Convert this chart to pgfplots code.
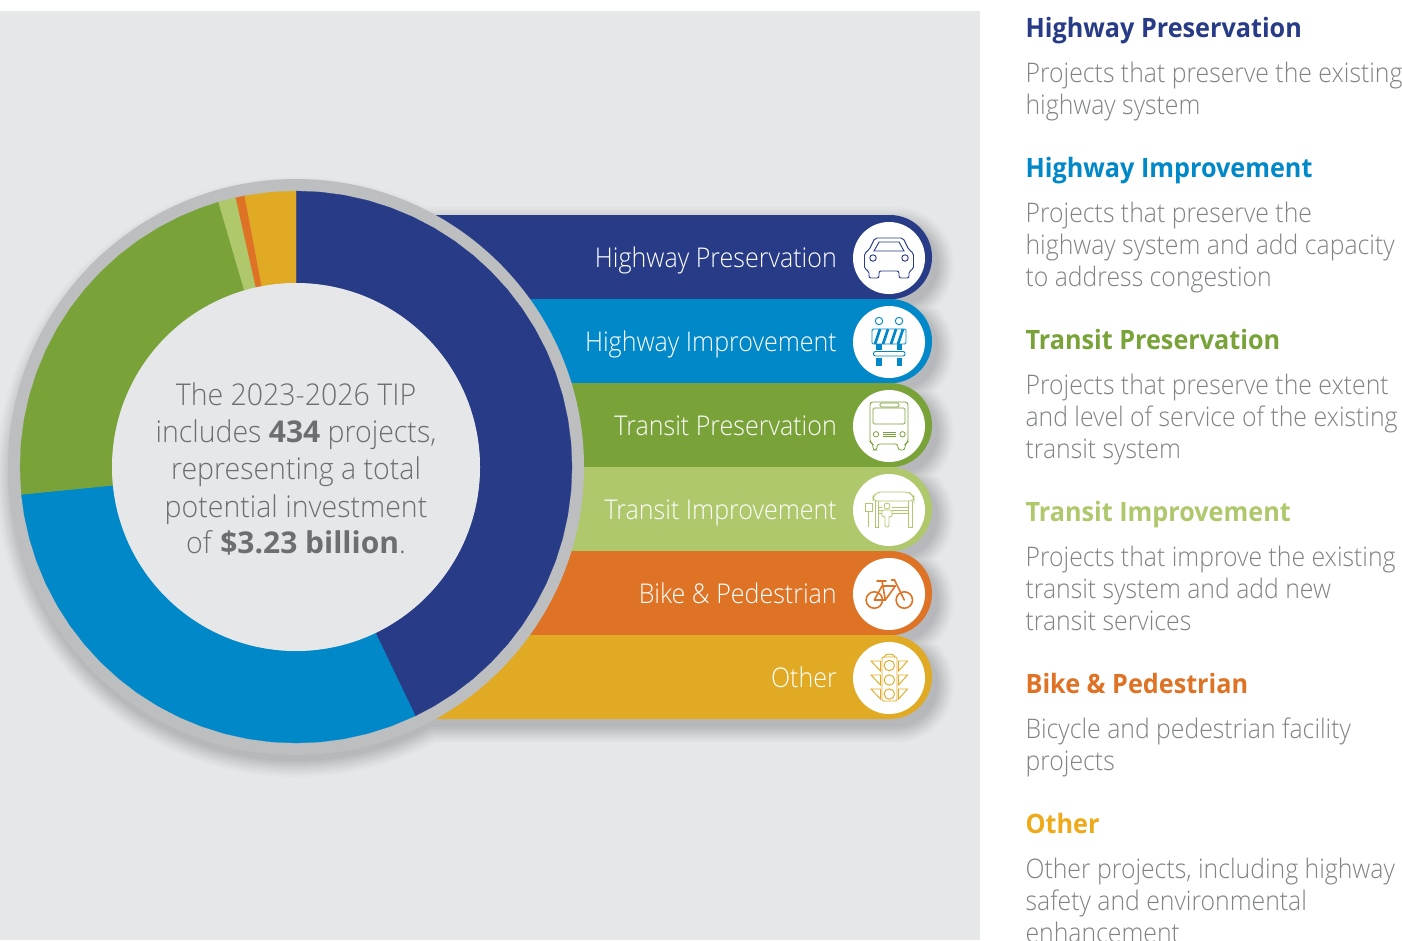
\documentclass[border=0pt]{standalone}
\usepackage{fontspec}
\setmainfont{Open Sans Light}[FakeStretch=0.92, BoldFont=Open Sans Bold, BoldFeatures={FakeStretch=0.945}]
\newfontfamily\midf{Open Sans Light}[FakeStretch=0.95, BoldFont=Open Sans Bold, BoldFeatures={FakeStretch=1}]
\usepackage{pgfplots}
\pgfplotsset{compat=1.18}

\definecolor{bg}{HTML}{E6E7E8}
\definecolor{ringc}{HTML}{BCBEC0}
\definecolor{shadowc}{HTML}{B4B6B9}
\definecolor{hpres}{HTML}{273B87}
\definecolor{himp}{HTML}{0088C9}
\definecolor{tpres}{HTML}{79A339}
\definecolor{timp}{HTML}{AFC86C}
\definecolor{bike}{HTML}{DE7326}
\definecolor{other}{HTML}{E0AA24}
\definecolor{otitle}{HTML}{EFAA1A}
\definecolor{midtxt}{HTML}{6D6E71}
\definecolor{sidetxt}{HTML}{808285}

% one shadow layer: w = spread in px, c = share of the shadow colour
\newcommand{\shlayer}[2]{%
  \fill[shadowc!#2!bg] (axis cs:296,477) circle [radius={(284+#1)*0.75pt}];
  \draw[shadowc!#2!bg, line cap=round, line width={(84+2*#1)*0.75pt}] (axis cs:420,265) -- (axis cs:896,265);
  \draw[shadowc!#2!bg, line cap=round, line width={(84+2*#1)*0.75pt}] (axis cs:420,349) -- (axis cs:896,349);
  \draw[shadowc!#2!bg, line cap=round, line width={(84+2*#1)*0.75pt}] (axis cs:420,433) -- (axis cs:896,433);
  \draw[shadowc!#2!bg, line cap=round, line width={(84+2*#1)*0.75pt}] (axis cs:420,517) -- (axis cs:896,517);
  \draw[shadowc!#2!bg, line cap=round, line width={(84+2*#1)*0.75pt}] (axis cs:420,601) -- (axis cs:896,601);
  \draw[shadowc!#2!bg, line cap=round, line width={(84+2*#1)*0.75pt}] (axis cs:420,685) -- (axis cs:896,685);
}
\newcommand{\bandlabel}[2]{\node[anchor=base east, text=white, font=\fontsize{20.4}{20.4}\selectfont, inner sep=0pt] at (axis cs:837,#1) {#2};}
\newcommand{\midline}[2]{\node[anchor=base, text=midtxt, font=\fontsize{22.5}{22.5}\selectfont\midf, inner sep=0pt] at (axis cs:296,#1) {#2};}
\newcommand{\sidetitle}[3]{\node[anchor=base west, text=#2, font=\fontsize{20}{20}\selectfont\bfseries, inner sep=0pt] at (axis cs:1025.3,#1) {#3};}
\newcommand{\sideline}[2]{\node[overlay, anchor=base west, text=sidetxt, font=\fontsize{20.2}{20.2}\selectfont, inner sep=0pt] at (axis cs:1025.3,#1) {#2};}

\begin{document}
\begin{tikzpicture}
\begin{axis}[
    at={(0,0)}, anchor=south west,
    scale only axis, width=1051.5pt, height=705pt,
    xmin=0, xmax=1402, ymin=0, ymax=940, y dir=reverse,
    hide axis, clip=true,
]
\fill[white] (axis cs:0,0) rectangle (axis cs:1402,940);
\fill[bg] (axis cs:0,11) rectangle (axis cs:980,940);

\shlayer{16}{8}
\shlayer{14}{16}
\shlayer{12}{26}
\shlayer{10}{38}
\shlayer{8}{50}
\shlayer{6}{62}
\shlayer{4}{74}
\shlayer{2}{86}
\shlayer{0}{96}

% bands behind the donut, one for each category
\addplot[fill=hpres, draw=none, rounded corners=31.5pt] coordinates {(300,215) (932,215) (932,299.3) (300,299.3)} -- cycle;
\addplot[fill=himp, draw=none, rounded corners=31.5pt] coordinates {(300,299) (932,299) (932,383.3) (300,383.3)} -- cycle;
\addplot[fill=tpres, draw=none, rounded corners=31.5pt] coordinates {(300,383) (932,383) (932,467.3) (300,467.3)} -- cycle;
\addplot[fill=timp, draw=none, rounded corners=31.5pt] coordinates {(300,467) (932,467) (932,551.3) (300,551.3)} -- cycle;
\addplot[fill=bike, draw=none, rounded corners=31.5pt] coordinates {(300,551) (932,551) (932,635.3) (300,635.3)} -- cycle;
\addplot[fill=other, draw=none, rounded corners=31.5pt] coordinates {(300,635) (932,635) (932,719) (300,719)} -- cycle;

% grey ring and hole
\fill[ringc] (axis cs:296,467) circle [radius=216pt];

% donut slices: (angle, radius), angle grows clockwise on screen because y is reversed
\addplot[fill=hpres, draw=hpres, line width=0.2pt, data cs=polar, shift={(axis direction cs:296,467)}] coordinates {
 (-90,276) (-85,276) (-80,276) (-75,276) (-70,276) (-65,276) (-60,276) (-55,276) (-50,276) (-45,276) (-40,276)
 (-35,276) (-30,276) (-25,276) (-20,276) (-15,276) (-10,276) (-5,276) (0,276) (5,276) (10,276) (15,276) (20,276)
 (25,276) (30,276) (35,276) (40,276) (45,276) (50,276) (55,276) (60,276) (64.4,276)
 (64.4,184) (60,184) (55,184) (50,184) (45,184) (40,184) (35,184) (30,184) (25,184) (20,184) (15,184) (10,184)
 (5,184) (0,184) (-5,184) (-10,184) (-15,184) (-20,184) (-25,184) (-30,184) (-35,184) (-40,184) (-45,184) (-50,184)
 (-55,184) (-60,184) (-65,184) (-70,184) (-75,184) (-80,184) (-85,184) (-90,184)} -- cycle;
\addplot[fill=himp, draw=himp, line width=0.2pt, data cs=polar, shift={(axis direction cs:296,467)}] coordinates {
 (64.4,276) (70,276) (75,276) (80,276) (85,276) (90,276) (95,276) (100,276) (105,276) (110,276) (115,276) (120,276)
 (125,276) (130,276) (135,276) (140,276) (145,276) (150,276) (155,276) (160,276) (165,276) (170,276) (174.3,276)
 (174.3,184) (170,184) (165,184) (160,184) (155,184) (150,184) (145,184) (140,184) (135,184) (130,184) (125,184)
 (120,184) (115,184) (110,184) (105,184) (100,184) (95,184) (90,184) (85,184) (80,184) (75,184) (70,184) (64.4,184)} -- cycle;
\addplot[fill=tpres, draw=tpres, line width=0.2pt, data cs=polar, shift={(axis direction cs:296,467)}] coordinates {
 (174.3,276) (180,276) (185,276) (190,276) (195,276) (200,276) (205,276) (210,276) (215,276) (220,276) (225,276)
 (230,276) (235,276) (240,276) (245,276) (250,276) (253.7,276)
 (253.7,184) (250,184) (245,184) (240,184) (235,184) (230,184) (225,184) (220,184) (215,184) (210,184) (205,184)
 (200,184) (195,184) (190,184) (185,184) (180,184) (174.3,184)} -- cycle;
\addplot[fill=timp, draw=timp, line width=0.2pt, data cs=polar, shift={(axis direction cs:296,467)}] coordinates {
 (253.7,276) (255.5,276) (257.4,276) (257.4,184) (255.5,184) (253.7,184)} -- cycle;
\addplot[fill=bike, draw=bike, line width=0.2pt, data cs=polar, shift={(axis direction cs:296,467)}] coordinates {
 (257.4,276) (259.3,276) (259.3,184) (257.4,184)} -- cycle;
\addplot[fill=other, draw=other, line width=0.2pt, data cs=polar, shift={(axis direction cs:296,467)}] coordinates {
 (259.3,276) (265,276) (270,276) (270,184) (265,184) (259.3,184)} -- cycle;
\fill[bg] (axis cs:296,467) circle [radius=138pt];

% text in the hole
\midline{405}{The 2023-2026 TIP}
\midline{442}{includes \textbf{434} projects,}
\midline{479}{representing a total}
\midline{517}{potential investment}
\midline{553}{of \textbf{\$3.23 billion}.}

% band labels
\bandlabel{267}{Highway Preservation}
\bandlabel{351}{Highway Improvement}
\bandlabel{435}{Transit Preservation}
\bandlabel{519}{Transit Improvement}
\bandlabel{603}{Bike \& Pedestrian}
\bandlabel{687}{Other}

% icon discs
\fill[white] (axis cs:889,258) circle [radius=27pt];
\fill[white] (axis cs:889,342) circle [radius=27pt];
\fill[white] (axis cs:889,426) circle [radius=27pt];
\fill[white] (axis cs:889,510) circle [radius=27pt];
\fill[white] (axis cs:889,594) circle [radius=27pt];
\fill[white] (axis cs:889,678) circle [radius=27pt];

% car
\begin{scope}[shift={(axis cs:889,258)}, x=0.75pt, y=-0.75pt, draw=hpres, line width=0.7pt]
  \draw[rounded corners=1.5pt] (-10,13) -- (-10,20) -- (-20,20) -- (-20,13) -- (-24.5,11) -- (-24.5,-5) -- (-20,-8)
    -- (-14,-20) -- (14,-20) -- (20,-8) -- (24.5,-5) -- (24.5,11) -- (20,13) -- (20,20) -- (10,20) -- (10,13) -- cycle;
  \draw (-15,-7) -- (-10,-16) -- (10,-16) -- (15,-7) -- cycle;
  \draw (-16,0) circle [radius=3.2*0.75pt];
  \draw (16,0) circle [radius=3.2*0.75pt];
\end{scope}
% barrier
\begin{scope}[shift={(axis cs:889,342)}, x=0.75pt, y=-0.75pt, draw=himp, line width=0.7pt]
  \draw (-10,-21) circle [radius=3.7*0.75pt];
  \draw (10,-21) circle [radius=3.7*0.75pt];
  \draw[rounded corners=1pt] (-17,-13) rectangle (17,2);
  \draw[line width=2pt] (-14,2) -- (-9,-13);
  \draw[line width=2pt] (-6,2) -- (-1,-13);
  \draw[line width=2pt] (2,2) -- (7,-13);
  \draw[line width=2pt] (9,2) -- (14,-13);
  \fill[himp] (-13,2) rectangle (-7.5,7.5);
  \fill[himp] (7.5,2) rectangle (13,7.5);
  \draw[rounded corners=1.5pt] (-15.5,9.5) rectangle (16,14);
  \fill[himp] (-13,16) rectangle (-7.5,24);
  \fill[himp] (7.5,16) rectangle (13,24);
\end{scope}
% bus
\begin{scope}[shift={(axis cs:889,426)}, x=0.75pt, y=-0.75pt, draw=tpres, line width=0.6pt]
  \draw[rounded corners=2pt] (-12,18) -- (-12,24) -- (-16,24) -- (-16,18) -- (-19,16) -- (-19,-24) -- (19,-24) -- (19,16)
    -- (16,18) -- (16,24) -- (9,24) -- (9,18) -- cycle;
  \draw[rounded corners=1pt] (-16,-18) rectangle (16,-2);
  \draw[rounded corners=1pt] (-9,-23) rectangle (10,-19);
  \draw (-13,8.3) circle [radius=2.7*0.75pt];
  \draw (13.5,8.3) circle [radius=2.7*0.75pt];
  \draw (-6,6) -- (7,6);
  \draw (-6,8.3) -- (7,8.3);
  \draw (-6,10.5) -- (7,10.5);
\end{scope}
% shelter
\begin{scope}[shift={(axis cs:889,510)}, x=0.75pt, y=-0.75pt, draw=timp, line width=0.6pt]
  \draw[rounded corners=3pt] (-16,-9) -- (-16,-13) -- (-12,-18) -- (20,-18) -- (25,-13) -- (25,-9) -- cycle;
  \draw (-14,-9) -- (-14,17) -- (-11,17) -- (-11,-9);
  \draw (19,-9) -- (19,17) -- (23,17) -- (23,-9);
  \draw (-11,-3) -- (19,-3);
  \draw (-11,3) -- (19,3);
  \draw (-11,0) -- (19,0);
  \draw (-24,-7) rectangle (-17,1);
  \draw (-20.5,1) -- (-20.5,17);
  \fill[white] (-7,-3) rectangle (3,17);
  \draw (-2,-4) circle [radius=3*0.75pt];
  \draw[rounded corners=1pt] (-4,17) -- (-4,6) -- (-7,7) -- (-7,0) -- (3,0) -- (3,7) -- (0,6) -- (0,17) -- cycle;
\end{scope}
% bike
\begin{scope}[shift={(axis cs:889,594)}, x=0.75pt, y=-0.75pt, draw=bike, line width=1.2pt, line cap=round]
  \draw (-14.7,6) circle [radius=8.2*0.75pt];
  \draw (15.3,6) circle [radius=8.2*0.75pt];
  \draw[line join=round] (-14.7,6) -- (-7,-8) -- (6.3,-8) -- (-3.7,6) -- cycle;
  \draw (-3.7,6) -- (-7,-13);
  \draw (-12,-13) -- (-3,-13);
  \draw (15.3,6) -- (5.5,-14) -- (2.5,-14);
\end{scope}
% traffic light
\begin{scope}[shift={(axis cs:889,678)}, x=0.75pt, y=-0.75pt, draw=other, line width=0.7pt]
  \draw[rounded corners=1pt] (-7,-21) rectangle (8,23);
  \draw (-5,-21) .. controls (-4,-25) and (5,-25) .. (6,-21);
  \draw (0.3,-12.5) circle [radius=5.2*0.75pt];
  \draw (0.3,2) circle [radius=5.2*0.75pt];
  \draw (0.3,16) circle [radius=5.2*0.75pt];
  \draw (-18,-17) -- (-8.5,-17) -- (-8.5,-7) -- cycle;
  \draw (-18,-3) -- (-8.5,-3) -- (-8.5,7) -- cycle;
  \draw (-18,11) -- (-8.5,11) -- (-8.5,21) -- cycle;
  \draw (18.5,-17) -- (9.5,-17) -- (9.5,-7) -- cycle;
  \draw (18.5,-3) -- (9.5,-3) -- (9.5,7) -- cycle;
  \draw (18.5,11) -- (9.5,11) -- (9.5,21) -- cycle;
\end{scope}

% right column
\sidetitle{37}{hpres}{Highway Preservation}
\sideline{82}{Projects that preserve the existing}
\sideline{114}{highway system}
\sidetitle{177}{himp}{Highway Improvement}
\sideline{222}{Projects that preserve the}
\sideline{254}{highway system and add capacity}
\sideline{286}{to address congestion}
\sidetitle{349}{tpres}{Transit Preservation}
\sideline{394}{Projects that preserve the extent}
\sideline{426}{and level of service of the existing}
\sideline{458}{transit system}
\sidetitle{521}{timp}{Transit Improvement}
\sideline{566}{Projects that improve the existing}
\sideline{598}{transit system and add new}
\sideline{630}{transit services}
\sidetitle{693}{bike}{Bike \& Pedestrian}
\sideline{738}{Bicycle and pedestrian facility}
\sideline{770}{projects}
\sidetitle{833}{otitle}{Other}
\sideline{878}{Other projects, including highway}
\sideline{910}{safety and environmental}
\sideline{942}{enhancement}
\end{axis}
\end{tikzpicture}
\end{document}
